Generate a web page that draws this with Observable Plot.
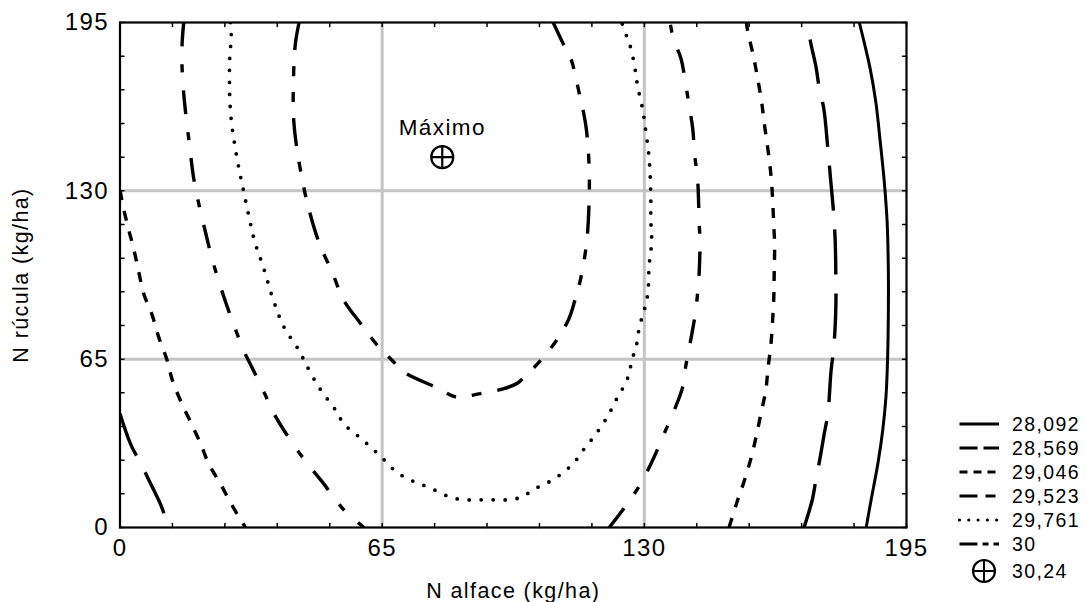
<!DOCTYPE html>
<html><head><meta charset="utf-8">
<script src="https://cdn.jsdelivr.net/npm/d3@7"></script>
<script src="https://cdn.jsdelivr.net/npm/@observablehq/plot@0.6"></script>
<style>
body{margin:0;background:#fff;}
#wrap{position:relative;width:1086px;height:602px;font-family:"Liberation Sans",Arial,Helvetica,sans-serif;}
#legend{position:absolute;left:955px;top:412px;}
.row{display:flex;align-items:center;height:24px;font-size:19.5px;letter-spacing:1.4px;color:#000}
.row svg{display:block}
.row span{margin-left:9px}
#chart svg [aria-label="x-axis tick label"], #chart svg [aria-label="y-axis tick label"]{font-size:24px;}
#chart svg [aria-label="x-axis label"], #chart svg [aria-label="y-axis label"]{font-size:21.5px;}
</style></head><body><div id="wrap"><div id="chart"></div><div id="legend"></div></div>
<script>
// ---- data ----
const majorTicks = [0, 65, 130, 195];
const minorTicks = [0, 13, 26, 39, 52, 65, 78, 91, 104, 117, 130, 143, 156, 169, 182, 195];
const gridValues = [65, 130];
const levelLabels = ["28,092", "28,569", "29,046", "29,523", "29,761", "30"];
const maxLabel = "30,24";
const maxPoint = [{x: 79.9, y: 143.0}];

const c28092 = [[185,0],[186.2,10.4],[187.9,24.6],[189.1,37.5],[189.9,50.3],[190.3,64.5],[190.5,82.5],[190.5,98.9],[190.2,117.9],[189.5,133.3],[188.5,148.8],[187.4,164.2],[186,177.1],[184.5,187.4],[183.3,195]];
const c28569a = [[0,43.9],[2.6,32.3],[5.1,24.8],[7.6,16.9],[10.5,7.2],[11.8,0]];
const c28569b = [[169.6,0],[171.7,11.1],[172.5,18.1],[173.6,27.1],[174.6,36.2],[175.5,43.9],[176.3,60.6],[176.9,68.3],[177.3,77.3],[177.5,86.4],[177.5,94.1],[177.3,111.5],[176.9,121.8],[176.1,135.9],[175.5,146.2],[174.5,161.7],[173.4,169.4],[172.5,178.4],[171.3,186.8],[170.4,195]];
const c29046a = [[0,130.2],[0.9,123.1],[2.2,114.7],[3.4,107.6],[4.7,98.3],[5.9,90.2],[8,81.9],[9.6,73.5],[11.7,64.5],[13,56.8],[15,49],[17.5,40.7],[20,32.3],[22,24.6],[24.9,16.9],[27.8,8.5],[31.1,0]];
const c29046b = [[151,0],[153.1,10.4],[154.8,18.1],[156.4,26.5],[157.7,34.9],[158.9,43.9],[160.1,52.9],[160.7,61.9],[161.4,70.9],[161.8,79.9],[162.1,88.9],[162.2,98.3],[162.3,108.9],[162.1,116.6],[161.6,132.1],[161,141.7],[159.7,156.5],[159.1,164.2],[158.1,173.3],[157.1,181.6],[155.6,191.9],[155.3,195]];
const c29523a = [[15.8,195],[15.4,186.8],[15.4,177.1],[16,164.2],[17.1,149.4],[18.3,134.6],[19.8,123.1],[21.2,114],[22.5,105.7],[23.9,98],[26.2,87],[28.1,78.7],[30.7,68.3],[33.1,60.6],[35.9,51.6],[38.2,43.9],[42.3,33.6],[46.4,24.8],[50.2,17.5],[55.5,6.8],[60.5,0]];
const c29523b = [[121.3,0],[125.8,9.2],[129.1,16.9],[132.4,27.1],[134.9,36.2],[137.4,45.2],[139.5,54.2],[140.3,62.6],[141.4,71.6],[142.5,81.2],[143.2,90.2],[143.6,98.6],[143.8,110.2],[143.6,117.9],[143.2,134.6],[142.5,143.6],[142,154],[141.1,163],[140.3,170.7],[139.1,181],[137.2,188.7],[136.4,195]];
const c29761 = [[27.4,195],[27.6,190],[27.2,181],[27.2,166.8],[27.6,157.1],[28.4,148.2],[29.5,138.5],[30.7,129.5],[32,119.8],[33.4,110.4],[35.4,101.2],[38.2,87],[40.6,77.6],[44.4,68.3],[46,63.4],[49.3,54.2],[53.5,45.2],[55.5,40],[58.9,35.5],[62.2,31],[65.5,26.1],[68.4,21.6],[71.9,18.4],[75.4,16.2],[78.7,14],[82.2,11.5],[85.7,10.7],[89.2,10.7],[92.7,10.7],[96.1,10.7],[99.5,11.7],[102.8,14.9],[106.6,17.8],[110,21.4],[112.8,25.5],[115.1,30.4],[117.5,35.1],[119.6,39.7],[121.4,44.3],[122.9,49],[124.6,53.6],[126,58.3],[126.7,62.9],[127.5,67.7],[128.3,72.2],[128.7,77.1],[129.6,81.9],[130.4,86.4],[130.9,90.9],[131.2,101.2],[131.8,110.2],[131.6,119.2],[131.6,128.2],[131.2,142.4],[130.4,152.6],[129.6,161.3],[128.3,170.7],[127.9,175.2],[126.7,184.8],[125.7,189.3],[124.4,195]];
const c30 = [[44.4,195],[43.5,187],[43,172],[43.1,156.5],[44.4,141],[46.4,125.6],[49.3,110.2],[52.6,98.6],[55.5,87.7],[59.7,78.7],[64.2,69.6],[67.5,64.5],[70.4,60],[78.7,53.9],[83.6,50.3],[89,51.6],[95.2,53.6],[98.5,55.7],[100.6,58.7],[104.3,64.5],[108.5,72.9],[111.3,80.6],[113,88.9],[114.3,96.7],[115.7,110.2],[116.3,125.6],[116.3,139.8],[115.5,155.2],[113.8,168.1],[111.8,181],[110.1,186.1],[107.4,195]];

const contourPieces = [
  [0, c28092], [1, c28569a], [1, c28569b], [2, c29046a], [2, c29046b],
  [3, c29523a], [3, c29523b], [4, c29761], [5, c30]
];

// ---- styles ----
const lineStyles = [
  {dash: null, width: 3, cap: "butt"},
  {dash: "45,19", width: 3.4, cap: "butt"},
  {dash: "10,11", width: 3.4, cap: "butt"},
  {dash: "24,18,8,18", width: 3.4, cap: "butt"},
  {dash: "0,12", width: 3.8, cap: "round"},
  {dash: "28,16,10,16,10,16", width: 3.4, cap: "butt"}
];
const legendStyles = [
  {dash: null, width: 2.8, cap: "butt"},
  {dash: "18,6", width: 3.2, cap: "butt"},
  {dash: "8,6", width: 3.2, cap: "butt"},
  {dash: "18,8,10,8", width: 3.2, cap: "butt"},
  {dash: "0,9.3", width: 3.2, cap: "round"},
  {dash: "18,5,6,5,6,5", width: 3.2, cap: "butt"}
];

const rows = [];
contourPieces.forEach(([lvl, pts], i) => pts.forEach(([x, y]) => rows.push({level: lvl, piece: i, x, y})));

const circlePlus = {
  draw(ctx, size) {
    const r = Math.sqrt(size / Math.PI);
    ctx.moveTo(r, 0); ctx.arc(0, 0, r, 0, 2 * Math.PI);
    ctx.moveTo(-r, 0); ctx.lineTo(r, 0);
    ctx.moveTo(0, -r); ctx.lineTo(0, r);
  }
};
const tickShape = {draw(ctx, l) { ctx.moveTo(0, 0); ctx.lineTo(0, -l); }};

const contourMarks = lineStyles.map((s, lvl) =>
  Plot.line(rows.filter(d => d.level === lvl), {
    x: "x", y: "y", z: "piece", curve: "catmull-rom", clip: true,
    stroke: "black", strokeWidth: s.width, strokeDasharray: s.dash, strokeLinecap: s.cap
  })
);

const chart = Plot.plot({
  width: 1086, height: 602,
  marginLeft: 119.5, marginRight: 180, marginTop: 22, marginBottom: 75,
  style: {fontFamily: '"Liberation Sans", Arial, Helvetica, sans-serif', fontSize: "21px", letterSpacing: "1.4px", color: "black", background: "white"},
  x: {domain: [0, 195]},
  y: {domain: [0, 195]},
  marks: [
    Plot.ruleX(gridValues, {stroke: "#c4c4c4", strokeWidth: 3}),
    Plot.ruleY(gridValues, {stroke: "#c4c4c4", strokeWidth: 3}),
    ...contourMarks,
    Plot.vector(minorTicks, {x: d => d, frameAnchor: "bottom", rotate: 0, length: 4, anchor: "start", shape: tickShape, stroke: "black", strokeWidth: 1.5}),
    Plot.vector(minorTicks, {x: d => d, frameAnchor: "top", rotate: 180, length: 4, anchor: "start", shape: tickShape, stroke: "black", strokeWidth: 1.5}),
    Plot.vector(minorTicks, {y: d => d, frameAnchor: "left", rotate: 90, length: 4, anchor: "start", shape: tickShape, stroke: "black", strokeWidth: 1.5}),
    Plot.vector(minorTicks, {y: d => d, frameAnchor: "right", rotate: 270, length: 4, anchor: "start", shape: tickShape, stroke: "black", strokeWidth: 1.5}),
    Plot.frame({stroke: "black", strokeWidth: 2.2}),
    Plot.axisX({ticks: majorTicks, anchor: "bottom", tickSize: 0, tickPadding: 11, fontSize: 24, tickFormat: d => String(d),
      label: null}),
    Plot.axisX({ticks: [], anchor: "bottom", fontSize: 21.5,
      label: "N alface (kg/ha)", labelAnchor: "center", labelOffset: 70, labelArrow: "none"}),
    Plot.axisY({ticks: majorTicks, anchor: "left", tickSize: 0, tickPadding: 11, fontSize: 24, tickFormat: d => String(d),
      label: null}),
    Plot.axisY({ticks: [], anchor: "left", fontSize: 21.5,
      label: "N rúcula (kg/ha)", labelAnchor: "center", labelOffset: 107, labelArrow: "none"}),
    Plot.dot(maxPoint, {x: "x", y: "y", r: 11, symbol: circlePlus, stroke: "black", strokeWidth: 2.2, fill: "none"}),
    Plot.text(maxPoint, {x: "x", y: "y", text: () => "Máximo", dy: -29, fontSize: 22.5})
  ]
});
document.getElementById("chart").appendChild(chart);

// ---- legend ----
const legend = d3.select("#legend");
levelLabels.forEach((lab, i) => {
  const s = legendStyles[i];
  const row = legend.append("div").attr("class", "row");
  const svg = row.append("svg").attr("width", 48).attr("height", 24);
  svg.append("line").attr("x1", 4.5).attr("x2", 44).attr("y1", 12).attr("y2", 12)
    .attr("stroke", "black").attr("stroke-width", s.width)
    .attr("stroke-dasharray", s.dash).attr("stroke-linecap", s.cap);
  row.append("span").text(lab);
});
{
  const row = legend.append("div").attr("class", "row").style("height", "30px");
  const svg = row.append("svg").attr("width", 48).attr("height", 30);
  const g = svg.append("g").attr("transform", "translate(29,15)");
  g.append("circle").attr("r", 11).attr("fill", "none").attr("stroke", "black").attr("stroke-width", 2.2);
  g.append("line").attr("x1", -11).attr("x2", 11).attr("stroke", "black").attr("stroke-width", 2);
  g.append("line").attr("y1", -11).attr("y2", 11).attr("stroke", "black").attr("stroke-width", 2);
  row.append("span").text(maxLabel);
}
</script></body></html>
